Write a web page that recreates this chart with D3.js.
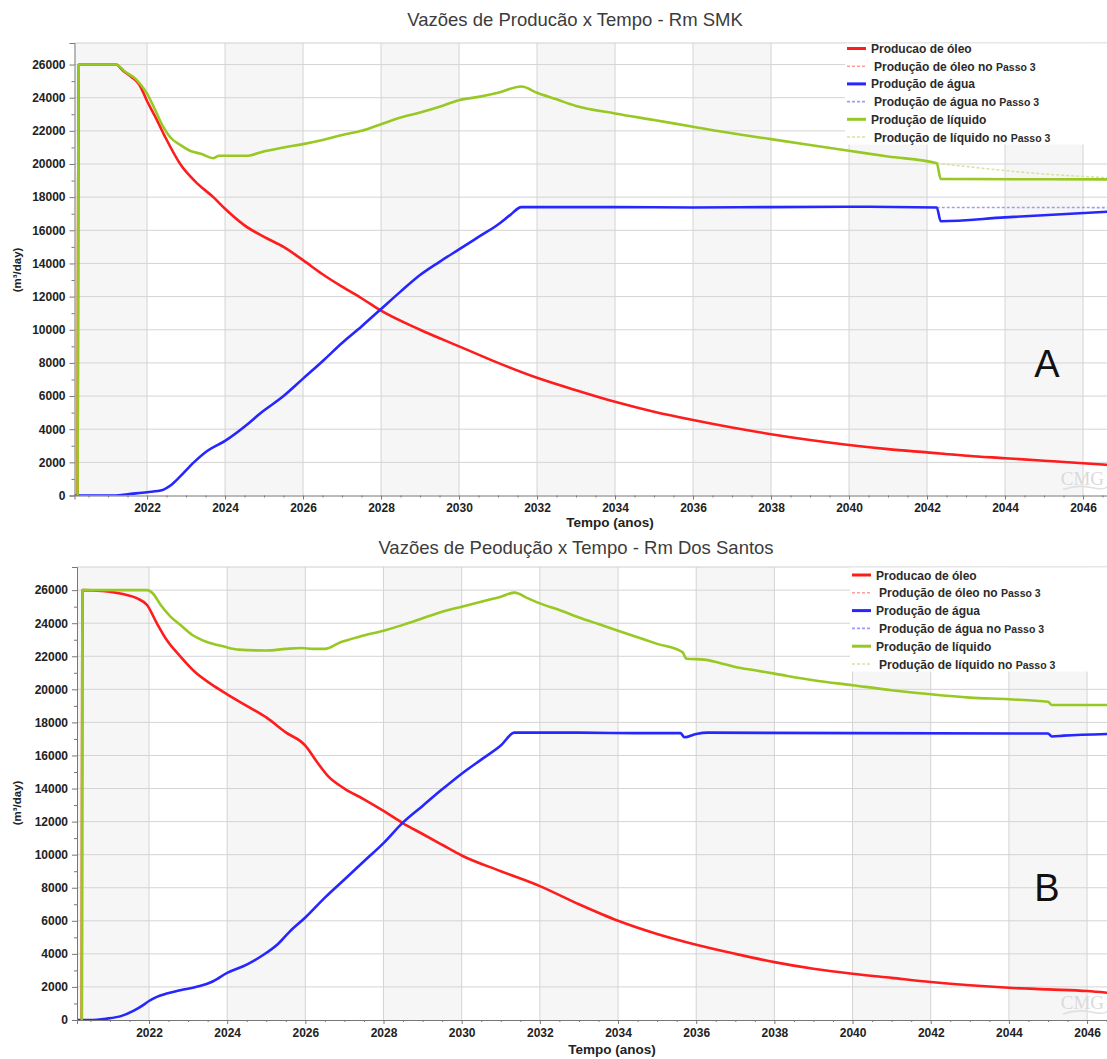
<!DOCTYPE html>
<html>
<head>
<meta charset="utf-8">
<script src="https://cdn.jsdelivr.net/npm/d3@7"></script>
<style>
  body { margin: 0; background: #fff; }
  svg { display: block; font-family: "Liberation Sans", Arial, sans-serif; }
</style>
</head>
<body>
<svg id="chart" width="1107" height="1059"></svg>
<script>
// ---- Production rates (m³/day) by decimal year ----

// Rm SMK
const oilA = [[2020.22,0],[2020.25,26000],[2021.2,26000],[2021.4,25600],[2021.6,25250],[2021.8,24800],[2022.0,23800],[2022.2,22900],[2022.45,21700],[2022.85,20000],[2023.3,18800],[2023.7,18000],[2024.0,17300],[2024.5,16300],[2025.0,15600],[2025.5,15000],[2026.0,14200],[2026.5,13350],[2027.0,12600],[2027.5,11900],[2028.0,11150],[2029.0,10000],[2030.0,9000],[2031.0,8000],[2032.0,7100],[2033.0,6350],[2034.0,5650],[2035.0,5050],[2036.0,4550],[2037.0,4100],[2038.0,3700],[2039.0,3350],[2040.0,3050],[2041.0,2800],[2042.0,2600],[2043.0,2400],[2044.0,2250],[2045.0,2100],[2046.0,1950],[2046.62,1850]];
const waterA = [[2020.14,0],[2021.2,0],[2021.5,80],[2022.0,200],[2022.4,330],[2022.6,600],[2022.85,1150],[2023.2,2000],[2023.55,2700],[2024.0,3300],[2024.6,4350],[2024.9,4950],[2025.5,6000],[2026.0,7050],[2026.5,8100],[2027.0,9200],[2027.5,10200],[2028.0,11250],[2028.5,12300],[2029.0,13300],[2029.5,14100],[2030.0,14850],[2030.5,15600],[2031.0,16350],[2031.3,16900],[2031.6,17400],[2034.0,17400],[2036.0,17380],[2038.0,17400],[2040.0,17420],[2042.25,17380],[2042.35,16550],[2044.0,16780],[2046.62,17120]];
const liquidA = [[2020.22,0],[2020.25,26000],[2021.2,26000],[2021.45,25550],[2021.7,25150],[2021.85,24750],[2022.0,24250],[2022.2,23300],[2022.4,22300],[2022.6,21600],[2022.85,21150],[2023.1,20800],[2023.4,20600],[2023.7,20350],[2023.85,20500],[2024.6,20500],[2024.9,20700],[2025.5,21000],[2026.0,21200],[2026.5,21450],[2027.0,21750],[2027.5,22000],[2028.0,22400],[2028.5,22800],[2029.0,23100],[2029.5,23450],[2030.0,23850],[2030.5,24050],[2031.0,24300],[2031.6,24680],[2032.0,24300],[2032.5,23900],[2033.0,23500],[2034.0,23050],[2035.0,22650],[2036.0,22250],[2037.0,21850],[2038.0,21500],[2039.0,21150],[2040.0,20800],[2041.0,20450],[2042.25,20050],[2042.35,19100],[2046.62,19070]];
const oilPasso3A = [[2042.25,2570],[2044.0,2250],[2046.0,1950],[2046.62,1850]];
const waterPasso3A = [[2042.25,17380],[2046.62,17370]];
const liquidPasso3A = [[2042.25,20050],[2043.0,19850],[2044.0,19600],[2045.0,19400],[2046.62,19170]];

// Rm Dos Santos
const oilB = [[2020.28,0],[2020.3,26000],[2020.8,25950],[2021.3,25780],[2021.7,25500],[2021.95,25100],[2022.2,24000],[2022.45,23000],[2022.8,22000],[2023.2,21000],[2023.6,20300],[2024.0,19700],[2024.5,19000],[2025.0,18300],[2025.5,17400],[2026.0,16600],[2026.3,15600],[2026.6,14700],[2027.0,14000],[2027.5,13350],[2028.0,12650],[2028.5,11900],[2029.0,11250],[2029.5,10600],[2030.0,9950],[2031.0,9000],[2032.0,8100],[2033.0,7000],[2034.0,6000],[2035.0,5200],[2036.0,4550],[2037.0,4000],[2038.0,3500],[2039.0,3100],[2040.0,2800],[2041.0,2550],[2042.0,2300],[2043.0,2100],[2044.0,1950],[2045.0,1850],[2046.0,1750],[2046.51,1650]];
const waterB = [[2020.16,0],[2020.5,0],[2020.9,80],[2021.3,250],[2021.6,550],[2021.85,900],[2022.0,1150],[2022.2,1400],[2022.45,1600],[2022.8,1800],[2023.3,2050],[2023.6,2300],[2024.0,2850],[2024.5,3350],[2024.9,3900],[2025.3,4600],[2025.6,5350],[2026.0,6200],[2026.5,7400],[2027.0,8500],[2027.5,9600],[2028.0,10700],[2028.5,11950],[2029.0,12950],[2029.5,13950],[2030.0,14900],[2030.5,15750],[2031.0,16600],[2031.35,17380],[2033.0,17380],[2034.5,17350],[2035.6,17350],[2035.7,17100],[2036.0,17300],[2036.3,17380],[2040.0,17350],[2045.0,17330],[2045.1,17150],[2045.4,17200],[2046.51,17300]];
const liquidB = [[2020.28,0],[2020.3,26000],[2021.95,26000],[2022.1,25800],[2022.3,25100],[2022.55,24400],[2022.8,23900],[2023.1,23300],[2023.5,22850],[2023.9,22600],[2024.3,22400],[2025.0,22350],[2025.5,22450],[2025.9,22500],[2026.2,22450],[2026.5,22450],[2026.9,22850],[2027.4,23200],[2028.0,23550],[2028.5,23900],[2029.0,24300],[2029.5,24700],[2030.0,25000],[2030.5,25300],[2031.0,25600],[2031.35,25850],[2031.7,25500],[2032.0,25200],[2032.5,24800],[2033.0,24350],[2033.5,23950],[2034.0,23550],[2034.5,23150],[2035.0,22750],[2035.65,22250],[2035.75,21850],[2036.2,21800],[2036.6,21600],[2037.0,21350],[2037.5,21150],[2038.0,20950],[2039.0,20550],[2040.0,20250],[2041.0,19950],[2042.0,19700],[2043.0,19500],[2044.0,19400],[2045.0,19250],[2045.1,19050],[2046.51,19050]];

// Axis ticks
const yearTicks = d3.range(2022, 2047, 2);
const rateTicks = d3.range(0, 26001, 2000);

// Legend entries
const legendLabels = [
  ["Producao de óleo", ""],
  ["Produção de óleo no ", "Passo 3"],
  ["Produção de água", ""],
  ["Produção de água no ", "Passo 3"],
  ["Produção de líquido", ""],
  ["Produção de líquido no ", "Passo 3"]
];

const colors = {
  oil: "#ff1c1c", water: "#2626ff", liquid: "#98c823",
  oilP: "#ff9c9c", waterP: "#9c9cff", liquidP: "#d2e6a0"
};
const legendKeys = ["oil", "oilP", "water", "waterP", "liquid", "liquidP"];

const svg = d3.select("#chart");

function drawPanel(p, idx) {
  const x = d3.scaleLinear().domain(p.xDomain).range([p.left, p.right]);
  const y = d3.scaleLinear().domain([0, p.yMax]).range([p.bottom, p.top]);
  const g = svg.append("g");

  const clipId = "clip" + idx;
  g.append("clipPath").attr("id", clipId)
    .append("rect").attr("x", p.left).attr("y", p.top)
    .attr("width", p.right - p.left).attr("height", p.bottom - p.top);

  // alternating two-year bands
  const bandStarts = d3.range(2020, 2047, 4);
  g.append("g").attr("clip-path", `url(#${clipId})`)
    .selectAll("rect").data(bandStarts).join("rect")
    .attr("x", d => x(Math.max(d, p.xDomain[0])))
    .attr("width", d => x(d + 2) - x(Math.max(d, p.xDomain[0])))
    .attr("y", p.top).attr("height", p.bottom - p.top)
    .attr("fill", "#f6f6f6");

  // grid
  const grid = g.append("g").attr("stroke", "#d4d4d4").attr("stroke-width", 1);
  grid.selectAll(".vg").data(yearTicks).join("line")
    .attr("x1", d => x(d)).attr("x2", d => x(d))
    .attr("y1", p.top).attr("y2", p.bottom);
  grid.selectAll(".hg").data(rateTicks.filter(d => d > 0)).join("line")
    .attr("x1", p.left).attr("x2", p.right)
    .attr("y1", d => y(d)).attr("y2", d => y(d));
  // top frame
  g.append("line").attr("x1", p.left).attr("x2", p.right)
    .attr("y1", p.top).attr("y2", p.top).attr("stroke", "#cfcfcf");

  // series
  const line = d3.line().x(d => x(d[0])).y(d => y(d[1])).curve(d3.curveMonotoneX);
  const lines = g.append("g").attr("clip-path", `url(#${clipId})`).attr("fill", "none");
  const dashed = [[p.oilP, "oilP"], [p.waterP, "waterP"], [p.liquidP, "liquidP"]];
  dashed.forEach(([data, key]) => {
    if (data && data.length) {
      lines.append("path").datum(data).attr("d", line)
        .attr("stroke", colors[key]).attr("stroke-width", 1.6)
        .attr("stroke-dasharray", "3,2");
    }
  });
  [[p.oil, "oil"], [p.water, "water"], [p.liquid, "liquid"]].forEach(([data, key]) => {
    lines.append("path").datum(data).attr("d", line)
      .attr("stroke", colors[key]).attr("stroke-width", 2.6)
      .attr("stroke-linejoin", "round").attr("stroke-linecap", "round");
  });

  // legend
  const lg = g.append("g");
  lg.append("rect").attr("x", p.legX - 2).attr("y", p.top + 0.5)
    .attr("width", p.right - p.legX + 2).attr("height", p.legBottom - p.top)
    .attr("fill", "#fff");
  legendLabels.forEach((lab, i) => {
    const key = legendKeys[i];
    const cy = p.legY + i * p.legStep;
    const isDash = key.endsWith("P");
    lg.append("line").attr("x1", p.legX).attr("x2", p.legX + 19)
      .attr("y1", cy).attr("y2", cy)
      .attr("stroke", colors[key]).attr("stroke-width", isDash ? 1.6 : 3)
      .attr("stroke-dasharray", isDash ? "3,2" : null);
    const t = lg.append("text").attr("x", p.legX + (isDash ? 27 : 24)).attr("y", cy + 4.5)
      .attr("font-size", 12).attr("font-weight", "bold").attr("fill", "#2b2b2b");
    t.append("tspan").text(lab[0]);
    if (lab[1]) t.append("tspan").attr("font-size", 10.5).text(lab[1]);
  });

  // axes
  const yAxis = d3.axisLeft(y).tickValues(rateTicks).tickSize(5).tickPadding(4)
    .tickFormat(d3.format("d"));
  const ya = g.append("g").attr("transform", `translate(${p.left},0)`).call(yAxis);
  const yMinor = d3.axisLeft(y).tickValues(d3.range(1000, 27000, 2000)).tickSize(3).tickFormat("");
  g.append("g").attr("transform", `translate(${p.left},0)`).call(yMinor)
    .call(s => s.select(".domain").remove());

  const xAxis = d3.axisBottom(x).tickValues(yearTicks).tickSize(4).tickPadding(4)
    .tickFormat(d3.format("d"));
  const xa = g.append("g").attr("transform", `translate(0,${p.bottom})`).call(xAxis);
  const xMinor = d3.axisBottom(x)
    .tickValues(d3.range(2020.5, 2047, 0.5).filter(v => v % 2 !== 0 && v > p.xDomain[0] && v < p.xDomain[1]))
    .tickSize(2).tickFormat("");
  g.append("g").attr("transform", `translate(0,${p.bottom})`).call(xMinor)
    .call(s => s.select(".domain").remove());

  g.selectAll(".domain").attr("stroke", "#777");
  g.selectAll(".tick line").attr("stroke", "#777");
  [ya, xa].forEach(a => a.selectAll("text")
    .attr("font-size", 12).attr("font-weight", "bold").attr("fill", "#222")
    .attr("font-family", "'Liberation Sans', Arial, sans-serif"));

  // titles
  g.append("text").attr("x", p.titleX).attr("y", p.titleY).attr("text-anchor", "middle")
    .attr("font-size", 18.5).attr("fill", "#3c3c3c").text(p.title);
  g.append("text").attr("x", p.xTitleX).attr("y", p.xTitleY).attr("text-anchor", "middle")
    .attr("font-size", 13.5).attr("font-weight", "bold").attr("fill", "#222").text("Tempo (anos)");
  g.append("text").attr("transform", `translate(${p.yTitleX},${p.yTitleY}) rotate(-90)`)
    .attr("text-anchor", "middle").attr("font-size", 11.5).attr("font-weight", "bold")
    .attr("fill", "#222").text("(m³/day)");

  // panel letter
  g.append("text").attr("x", p.letterX).attr("y", p.letterY).attr("text-anchor", "middle")
    .attr("font-size", 38).attr("fill", "#111").text(p.letter);

  // software watermark
  const wm = g.append("g");
  wm.append("text").attr("x", p.right - 3).attr("y", p.bottom - 11)
    .attr("text-anchor", "end")
    .attr("font-family", "'Liberation Serif', serif").attr("font-size", 19)
    .attr("fill", "#dadada").text("CMG");
  wm.append("path")
    .attr("d", `M${p.right - 44},${p.bottom - 6} q14,-5 28,-2 t16,-1`)
    .attr("fill", "none").attr("stroke", "#e0e0e0").attr("stroke-width", 1.5);
}

drawPanel({
  top: 43, bottom: 495.5, left: 74.5, right: 1107,
  xDomain: [2020.14, 2046.615], yMax: 27300,
  oil: oilA, water: waterA, liquid: liquidA,
  oilP: oilPasso3A, waterP: waterPasso3A, liquidP: liquidPasso3A,
  title: "Vazões de Producão x Tempo - Rm SMK", titleX: 575, titleY: 26,
  xTitleX: 610, xTitleY: 527, yTitleX: 21, yTitleY: 270,
  legX: 847, legY: 48.5, legStep: 17.7, legBottom: 144,
  letter: "A", letterX: 1047, letterY: 377
}, 0);

drawPanel({
  top: 567, bottom: 1020, left: 77, right: 1107,
  xDomain: [2020.158, 2046.51], yMax: 27400,
  oil: oilB, water: waterB, liquid: liquidB,
  title: "Vazões de Peodução x Tempo - Rm Dos Santos", titleX: 576, titleY: 554,
  xTitleX: 612, xTitleY: 1054, yTitleX: 21, yTitleY: 803,
  legX: 852, legY: 575, legStep: 17.8, legBottom: 671,
  letter: "B", letterX: 1047, letterY: 901
}, 1);
</script>
</body>
</html>
